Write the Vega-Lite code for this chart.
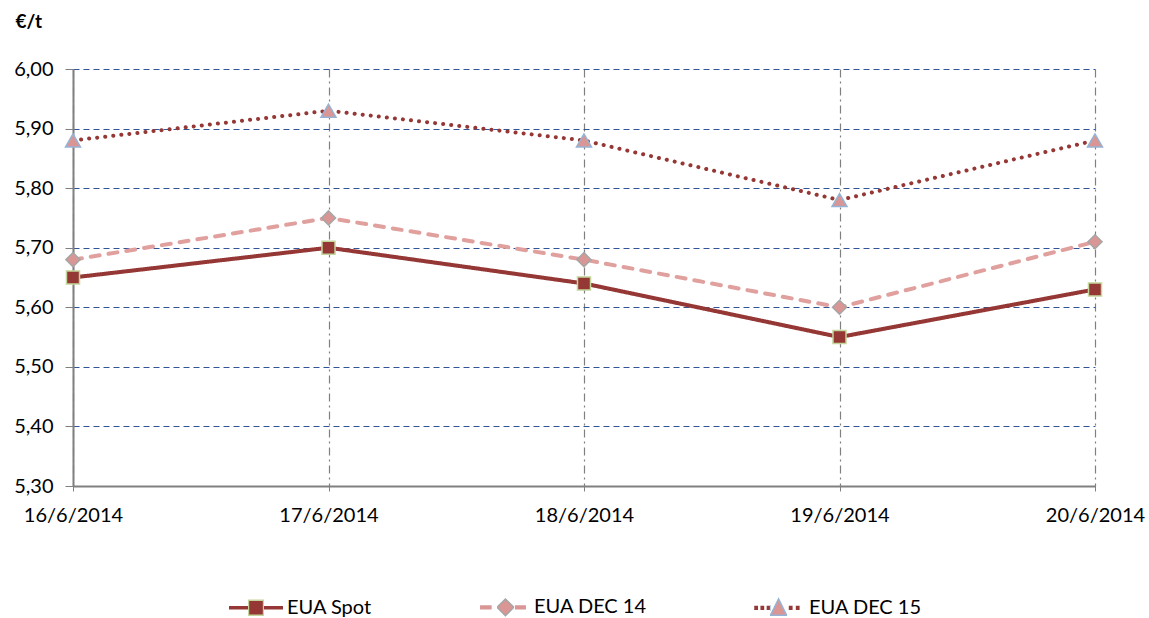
{
  "$schema": "https://vega.github.io/schema/vega-lite/v6.json",
  "autosize": {"type": "none"},
  "width": 1022,
  "height": 417,
  "padding": {"left": 73, "top": 69, "right": 54, "bottom": 132},
  "background": "white",
  "config": {
    "view": {"stroke": null},
    "font": "Lato",
    "axis": {"labelFont": "Lato", "labelFontSize": 20, "labelColor": "#000000", "titleFont": "Lato"},
    "legend": {"labelFont": "Lato", "labelFontSize": 20, "labelColor": "#000000"}
  },
  "data": {
    "values": [
      {"date": "16/6/2014", "series": "EUA Spot", "value": 5.65},
      {"date": "17/6/2014", "series": "EUA Spot", "value": 5.70},
      {"date": "18/6/2014", "series": "EUA Spot", "value": 5.64},
      {"date": "19/6/2014", "series": "EUA Spot", "value": 5.55},
      {"date": "20/6/2014", "series": "EUA Spot", "value": 5.63},
      {"date": "16/6/2014", "series": "EUA DEC 14", "value": 5.68},
      {"date": "17/6/2014", "series": "EUA DEC 14", "value": 5.75},
      {"date": "18/6/2014", "series": "EUA DEC 14", "value": 5.68},
      {"date": "19/6/2014", "series": "EUA DEC 14", "value": 5.60},
      {"date": "20/6/2014", "series": "EUA DEC 14", "value": 5.71},
      {"date": "16/6/2014", "series": "EUA DEC 15", "value": 5.88},
      {"date": "17/6/2014", "series": "EUA DEC 15", "value": 5.93},
      {"date": "18/6/2014", "series": "EUA DEC 15", "value": 5.88},
      {"date": "19/6/2014", "series": "EUA DEC 15", "value": 5.78},
      {"date": "20/6/2014", "series": "EUA DEC 15", "value": 5.88}
    ]
  },
  "encoding": {
    "x": {
      "field": "date", "type": "ordinal", "sort": null,
      "scale": {"type": "point", "padding": 0},
      "axis": {
        "title": null, "labelAngle": 0, "labelPadding": 14, "tickSize": 5,
        "tickColor": "#808080", "domainColor": "#808080", "domainWidth": 2,
        "grid": true, "gridColor": "#808080", "gridDash": [8, 4, 2, 4], "gridWidth": 1.2
      }
    },
    "y": {
      "field": "value", "type": "quantitative",
      "scale": {"domain": [5.3, 6.0], "nice": false, "zero": false},
      "axis": {
        "values": [5.3, 5.4, 5.5, 5.6, 5.7, 5.8, 5.9, 6.0],
        "labelExpr": "replace(format(datum.value, '.2f'), '.', ',')",
        "labelPadding": 12, "tickSize": 8, "tickColor": "#808080",
        "domainColor": "#808080", "domainWidth": 2,
        "grid": true, "gridColor": "#2F5597", "gridDash": [6, 4], "gridWidth": 1.2,
        "title": "€/t", "titleAngle": 0, "titleAlign": "left", "titleBaseline": "alphabetic",
        "titleX": -58, "titleY": -42, "titleFontSize": 19, "titleFontWeight": "bold", "titleColor": "#000000"
      }
    }
  },
  "layer": [
    {
      "mark": {"type": "line", "strokeCap": "round", "strokeWidth": 4},
      "encoding": {
        "color": {
          "field": "series", "type": "nominal",
          "scale": {"domain": ["EUA Spot", "EUA DEC 14", "EUA DEC 15"], "range": ["#953735", "#E0A09E", "#953735"]},
          "legend": null
        },
        "strokeDash": {
          "field": "series", "type": "nominal",
          "scale": {"domain": ["EUA Spot", "EUA DEC 14", "EUA DEC 15"], "range": [[1, 0], [9, 9], [0.1, 8]]},
          "legend": null
        }
      }
    },
    {
      "mark": {"type": "point", "filled": true, "opacity": 1, "strokeWidth": 1.5},
      "encoding": {
        "shape": {
          "field": "series", "type": "nominal",
          "scale": {"domain": ["EUA Spot", "EUA DEC 14", "EUA DEC 15"], "range": ["square", "diamond", "triangle-up"]},
          "legend": null
        },
        "size": {
          "field": "series", "type": "nominal",
          "scale": {"domain": ["EUA Spot", "EUA DEC 14", "EUA DEC 15"], "range": [170, 225, 230]},
          "legend": null
        },
        "fill": {
          "field": "series", "type": "nominal",
          "scale": {"domain": ["EUA Spot", "EUA DEC 14", "EUA DEC 15"], "range": ["#953735", "#D99694", "#D99694"]},
          "legend": null
        },
        "stroke": {
          "field": "series", "type": "nominal",
          "scale": {"domain": ["EUA Spot", "EUA DEC 14", "EUA DEC 15"], "range": ["#C3D69B", "#A6A6A6", "#95B3D7"]},
          "legend": null
        }
      }
    },
    {
      "mark": {"type": "point", "filled": true, "opacity": 0},
      "encoding": {
        "shape": {
          "field": "series", "type": "nominal",
          "scale": {
            "domain": ["EUA Spot", "EUA DEC 14", "EUA DEC 15"],
            "range": [
              "M-1,-0.065H-0.28V0.065H-1Z M-0.28,-0.28H0.28V0.28H-0.28Z M0.28,-0.065H1V0.065H0.28Z",
              "M-0.85,-0.08H-0.42V0.08H-0.85Z M0.09,-0.31L0.4,0L0.09,0.31L-0.22,0Z M0.44,-0.08H0.85V0.08H0.44Z",
              "M-0.88,-0.075H-0.74V0.075H-0.88Z M-0.65,-0.075H-0.51V0.075H-0.65Z M-0.42,-0.075H-0.3V0.075H-0.42Z M0.02,-0.33L0.32,0.27L-0.28,0.27Z M0.4,-0.075H0.54V0.075H0.4Z M0.66,-0.075H0.8V0.075H0.66Z"
            ]
          },
          "legend": {
            "title": null, "orient": "none", "direction": "horizontal",
            "legendX": 155, "legendY": 510,
            "symbolSize": 2916, "symbolOpacity": 1, "symbolStrokeWidth": 1.5,
            "columnPadding": 103, "labelOffset": 3, "padding": 0
          }
        },
        "fill": {
          "field": "series", "type": "nominal",
          "scale": {
            "domain": ["EUA Spot", "EUA DEC 14", "EUA DEC 15"],
            "range": [
              "#953735",
              "#D99694",
              {"expr": "{gradient: 'linear', stops: [{offset: 0, color: '#953735'}, {offset: 0.37, color: '#953735'}, {offset: 0.37, color: '#D99694'}, {offset: 0.735, color: '#D99694'}, {offset: 0.735, color: '#953735'}, {offset: 1, color: '#953735'}]}"}
            ]
          }
        },
        "stroke": {
          "field": "series", "type": "nominal",
          "scale": {
            "domain": ["EUA Spot", "EUA DEC 14", "EUA DEC 15"],
            "range": [
              {"expr": "{gradient: 'linear', stops: [{offset: 0, color: 'rgba(0,0,0,0)'}, {offset: 0.355, color: 'rgba(0,0,0,0)'}, {offset: 0.355, color: '#C3D69B'}, {offset: 0.645, color: '#C3D69B'}, {offset: 0.645, color: 'rgba(0,0,0,0)'}, {offset: 1, color: 'rgba(0,0,0,0)'}]}"},
              {"expr": "{gradient: 'linear', stops: [{offset: 0, color: 'rgba(0,0,0,0)'}, {offset: 0.36, color: 'rgba(0,0,0,0)'}, {offset: 0.36, color: '#A6A6A6'}, {offset: 0.745, color: '#A6A6A6'}, {offset: 0.745, color: 'rgba(0,0,0,0)'}, {offset: 1, color: 'rgba(0,0,0,0)'}]}"},
              {"expr": "{gradient: 'linear', stops: [{offset: 0, color: 'rgba(0,0,0,0)'}, {offset: 0.35, color: 'rgba(0,0,0,0)'}, {offset: 0.35, color: '#95B3D7'}, {offset: 0.72, color: '#95B3D7'}, {offset: 0.72, color: 'rgba(0,0,0,0)'}, {offset: 1, color: 'rgba(0,0,0,0)'}]}"}
            ]
          }
        }
      }
    }
  ],
  "resolve": {"scale": {"shape": "independent", "fill": "independent", "stroke": "independent"}}
}
